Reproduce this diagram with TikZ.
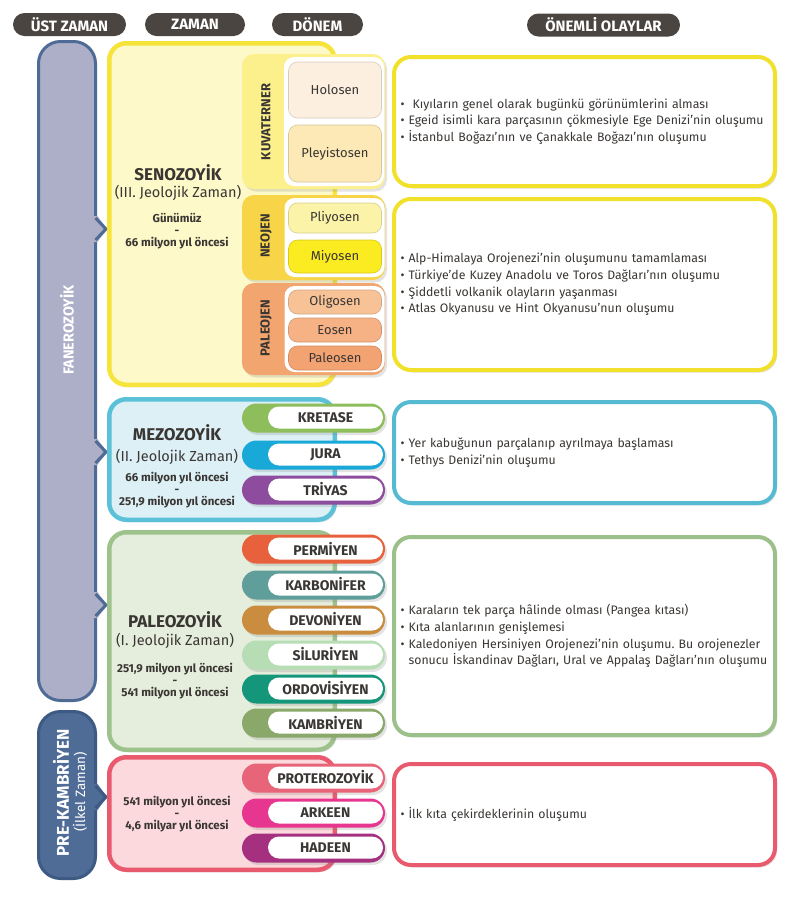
\documentclass[tikz,border=0pt]{standalone}
\usepackage{fontspec}
\setmainfont{Fira Sans}
\usetikzlibrary{shadows}
\frenchspacing

\definecolor{hdrgray}{HTML}{4A4541}
\definecolor{txtgray}{HTML}{3A3633}
\definecolor{fancol}{HTML}{ADAFC9}
\definecolor{barline}{HTML}{4D6B95}
\definecolor{prekbar}{HTML}{4F6C97}
\definecolor{prekbarline}{HTML}{3D5A84}
\definecolor{senofill}{HTML}{FDF9C9}
\definecolor{senoline}{HTML}{F6E43A}
\definecolor{kuvcol}{HTML}{FCF08C}
\definecolor{neocol}{HTML}{F8D548}
\definecolor{paleojcol}{HTML}{F2A56E}
\definecolor{holcol}{HTML}{FDEFDF}
\definecolor{pleycol}{HTML}{FCE9B5}
\definecolor{pliycol}{HTML}{FBF3A8}
\definecolor{miycol}{HTML}{FBEB21}
\definecolor{oligcol}{HTML}{F8C297}
\definecolor{eoscol}{HTML}{F6B185}
\definecolor{paleoscol}{HTML}{F3A372}
\definecolor{mesofill}{HTML}{DCF0F6}
\definecolor{mesoline}{HTML}{5BC1D8}
\definecolor{krecol}{HTML}{8DBE5B}
\definecolor{juracol}{HTML}{19A9D9}
\definecolor{tricol}{HTML}{8D4C9E}
\definecolor{paleofill}{HTML}{E5EEDC}
\definecolor{paleoline}{HTML}{9EC28C}
\definecolor{permcol}{HTML}{E7623C}
\definecolor{karbcol}{HTML}{5F9E9A}
\definecolor{devcol}{HTML}{CA8C3F}
\definecolor{silcol}{HTML}{B7DDB5}
\definecolor{ordcol}{HTML}{139679}
\definecolor{kambcol}{HTML}{8AA86A}
\definecolor{prekfill}{HTML}{FCD9DC}
\definecolor{prekline}{HTML}{E95A6E}
\definecolor{protcol}{HTML}{E86479}
\definecolor{arkcol}{HTML}{E7368F}
\definecolor{hadcol}{HTML}{A5307F}
\definecolor{evyellow}{HTML}{F2E12B}
\definecolor{evcyan}{HTML}{55BAD2}
\definecolor{evgreen}{HTML}{9CC08A}
\definecolor{evred}{HTML}{E95A6E}

\begin{document}
\begin{tikzpicture}[x=1pt, y=-1pt,
  every node/.style={inner sep=0pt, outer sep=0pt, text=txtgray},
  hdr/.style={fill=hdrgray, rounded corners=11.5pt, minimum height=23pt, text=white, font=\bfseries\fontsize{15}{15}\selectfont},
  shade/.style={drop shadow={opacity=.22, shadow xshift=2pt, shadow yshift=-2.5pt}},
  erabox/.style={shade, line width=4.5pt, rounded corners=17pt, minimum width=225.5pt},
  eratitle/.style={font=\bfseries\fontsize{17}{17}\selectfont},
  erasub/.style={font=\fontsize{14.5}{15}\selectfont},
  date/.style={align=center, font=\bfseries\fontsize{11.5}{11.8}\selectfont},
  blk/.style={shade, fill=#1, rounded corners=12pt, minimum width=143pt},
  panel/.style={fill=white, rounded corners=10pt, minimum width=100pt},
  epoch/.style={fill=#1, draw=#1!85!black, line width=.6pt, rounded corners=9pt, minimum width=93pt, font=\fontsize{13}{13}\selectfont},
  blklabel/.style={rotate=90, font=\bfseries\fontsize{13}{13}\selectfont},
  pillbase/.style={shade, fill=#1, rounded corners=14.5pt, minimum width=143pt, minimum height=29pt},
  pill/.style={fill=white, rounded corners=11pt, minimum width=115pt, minimum height=22pt, font=\bfseries\fontsize{14}{14}\selectfont},
  evbox/.style={shade, fill=white, draw=#1, line width=4pt, rounded corners=17pt, minimum width=381pt, text width=368pt, align=left, font=\fontsize{12.3}{16.7}\selectfont}
]
\useasboundingbox (0,0) rectangle (800,898);
\fill[white] (0,0) rectangle (800,898);

% column heads
\node[hdr, minimum width=113pt] (ust) at (69.5,24.5) {ÜST ZAMAN};
\node[hdr, minimum width=100pt] (zaman) at (195,24.5) {ZAMAN};
\node[hdr, minimum width=91pt] (donem) at (317.5,24.5) {DÖNEM};
\node[hdr, minimum width=153pt] (olay) at (603.5,25) {ÖNEMLİ OLAYLAR};

% upper eons
\draw[barline, line width=3pt, fill=fancol, rounded corners=22pt] (38.5,41.5) rectangle (95.5,700.5);
\fill[fancol] (94,216) -- (97.5,216) -- (107,229) -- (97.5,242) -- (94,242) -- cycle;
\draw[barline, line width=3pt, line join=round] (95.5,218) -- (106,229) -- (95.5,240);
\fill[fancol] (94,439) -- (97.5,439) -- (107,452) -- (97.5,465) -- (94,465) -- cycle;
\draw[barline, line width=3pt, line join=round] (95.5,441) -- (106,452) -- (95.5,463);
\fill[fancol] (94,592) -- (97.5,592) -- (107,605) -- (97.5,618) -- (94,618) -- cycle;
\draw[barline, line width=3pt, line join=round] (95.5,594) -- (106,605) -- (95.5,616);
\node[rotate=90, text=white, font=\bfseries\fontsize{14.5}{14.5}\selectfont] (fanero) at (67,330) {FANEROZOYİK};

\draw[prekbarline, line width=3pt, fill=prekbar, rounded corners=22pt] (38.5,711.5) rectangle (95.5,878.5);
\fill[prekbar] (94,784) -- (97.5,784) -- (107,797) -- (97.5,810) -- (94,810) -- cycle;
\draw[prekbarline, line width=3pt, line join=round] (95.5,786) -- (106,797) -- (95.5,808);
\node[rotate=90, text=white, font=\bfseries\fontsize{17}{17}\selectfont] (prekname) at (61,793) {PRE-KAMBRİYEN};
\node[rotate=90, text=white, font=\fontsize{13.5}{13.5}\selectfont] (prekalt) at (80,792) {(İlkel Zaman)};

% eras
\node[erabox, draw=senoline, fill=senofill, minimum height=341.5pt] (seno) at (222,214) {};
\node[erabox, draw=mesoline, fill=mesofill, minimum height=120.5pt] (meso) at (222,459.5) {};
\node[erabox, draw=paleoline, fill=paleofill, minimum height=217.5pt] (paleo) at (222,641) {};
\node[erabox, draw=prekline, fill=prekfill, minimum height=112.5pt] (prek) at (222,813.5) {};

\node[eratitle] (senoname) at (178,173) {SENOZOYİK};
\node[erasub] (senosub) at (178,193) {(III. Jeolojik Zaman)};
\node[date] (senodate) at (177,231) {Günümüz\\-\\66 milyon yıl öncesi};
\node[eratitle] (mesoname) at (177,433) {MEZOZOYİK};
\node[erasub] (mesosub) at (177,457) {(II. Jeolojik Zaman)};
\node[date] (mesodate) at (177,490) {66 milyon yıl öncesi\\-\\251,9 milyon yıl öncesi};
\node[eratitle] (paleoname) at (175,620) {PALEOZOYİK};
\node[erasub] (paleosub) at (175,641) {(I. Jeolojik Zaman)};
\node[date] (paleodate) at (175,681) {251,9 milyon yıl öncesi\\-\\541 milyon yıl öncesi};
\node[date] (prekdate) at (177,814) {541 milyon yıl öncesi\\-\\4,6 milyar yıl öncesi};

% senozoyik periods and epochs
\node[blk=kuvcol, minimum height=135pt] (kuv) at (313.5,121.5) {};
\node[panel, minimum height=129pt] (kuvpanel) at (334,121.5) {};
\node[epoch=holcol, minimum height=56pt] (holosen) at (335,90) {Holosen};
\node[epoch=pleycol, minimum height=57pt] (pleyistosen) at (335,153.5) {Pleyistosen};
\node[blklabel] (kuvname) at (266,122) {KUVATERNER};

\node[blk=neocol, minimum height=85pt] (neo) at (313.5,237.5) {};
\node[panel, minimum height=79pt] (neopanel) at (334.5,237.5) {};
\node[epoch=pliycol, minimum height=30pt] (pliyosen) at (335,218) {Pliyosen};
\node[epoch=miycol, minimum height=33pt] (miyosen) at (335,256.5) {Miyosen};
\node[blklabel] (neoname) at (266,236) {NEOJEN};

\node[blk=paleojcol, minimum height=92pt] (paleoj) at (313.5,329) {};
\node[panel, minimum height=86pt] (paleojpanel) at (334.5,329) {};
\node[epoch=oligcol, minimum height=24pt] (oligosen) at (335,302) {Oligosen};
\node[epoch=eoscol, minimum height=24pt] (eosen) at (335,330) {Eosen};
\node[epoch=paleoscol, minimum height=24pt] (paleosen) at (335,358) {Paleosen};
\node[blklabel] (paleojname) at (266,328) {PALEOJEN};

% mezozoyik periods
\node[pillbase=krecol] (kreb) at (313.5,418) {};
\node[pill] (kretase) at (325.5,417.5) {KRETASE};
\node[pillbase=juracol] (jurab) at (313.5,455) {};
\node[pill] (jura) at (325.5,454.5) {JURA};
\node[pillbase=tricol] (trib) at (313.5,490) {};
\node[pill] (triyas) at (325.5,489.5) {TRİYAS};

% paleozoyik periods
\node[pillbase=permcol] (permb) at (313.5,549) {};
\node[pill] (permiyen) at (325.5,548.5) {PERMİYEN};
\node[pillbase=karbcol] (karbb) at (313.5,585) {};
\node[pill] (karbonifer) at (325.5,584.5) {KARBONİFER};
\node[pillbase=devcol] (devb) at (313.5,620) {};
\node[pill] (devoniyen) at (325.5,619.5) {DEVONİYEN};
\node[pillbase=silcol] (silb) at (313.5,655) {};
\node[pill] (siluriyen) at (325.5,654.5) {SİLURİYEN};
\node[pillbase=ordcol] (ordb) at (313.5,689) {};
\node[pill] (ordovisiyen) at (325.5,688.5) {ORDOVİSİYEN};
\node[pillbase=kambcol] (kambb) at (313.5,723) {};
\node[pill] (kambriyen) at (325.5,722.5) {KAMBRİYEN};

% pre-kambriyen eons
\node[pillbase=protcol] (protb) at (313.5,778) {};
\node[pill] (proterozoyik) at (325.5,777.5) {PROTEROZOYİK};
\node[pillbase=arkcol] (arkb) at (313.5,813) {};
\node[pill] (arkeen) at (325.5,812.5) {ARKEEN};
\node[pillbase=hadcol] (hadb) at (313.5,848) {};
\node[pill] (hadeen) at (325.5,847.5) {HADEEN};

% events
\node[evbox=evyellow, minimum height=129pt] (ev1) at (584.5,121.5) {•\ \ Kıyıların genel olarak bugünkü görünümlerini alması\\ • Egeid isimli kara parçasının çökmesiyle Ege Denizi’nin oluşumu\\ • İstanbul Boğazı’nın ve Çanakkale Boğazı’nın oluşumu};
\node[evbox=evyellow, minimum height=171pt] (ev2) at (584.5,284.5) {• Alp-Himalaya Orojenezi’nin oluşumunu tamamlaması\\ • Türkiye’de Kuzey Anadolu ve Toros Dağları’nın oluşumu\\ • Şiddetli volkanik olayların yaşanması\\ • Atlas Okyanusu ve Hint Okyanusu’nun oluşumu};
\node[evbox=evcyan, minimum height=101pt] (ev3) at (584.5,452.5) {• Yer kabuğunun parçalanıp ayrılmaya başlaması\\ • Tethys Denizi’nin oluşumu};
\node[evbox=evgreen, minimum height=198pt] (ev4) at (584.5,636) {• Karaların tek parça hâlinde olması (Pangea kıtası)\\ • Kıta alanlarının genişlemesi\\ • Kaledoniyen Hersiniyen Orojenezi’nin oluşumu. Bu orojenezler\\ \phantom{• }sonucu İskandinav Dağları, Ural ve Appalaş Dağları’nın oluşumu};
\node[evbox=evred, minimum height=101pt] (ev5) at (584.5,814.5) {• İlk kıta çekirdeklerinin oluşumu};
\end{tikzpicture}
\end{document}
